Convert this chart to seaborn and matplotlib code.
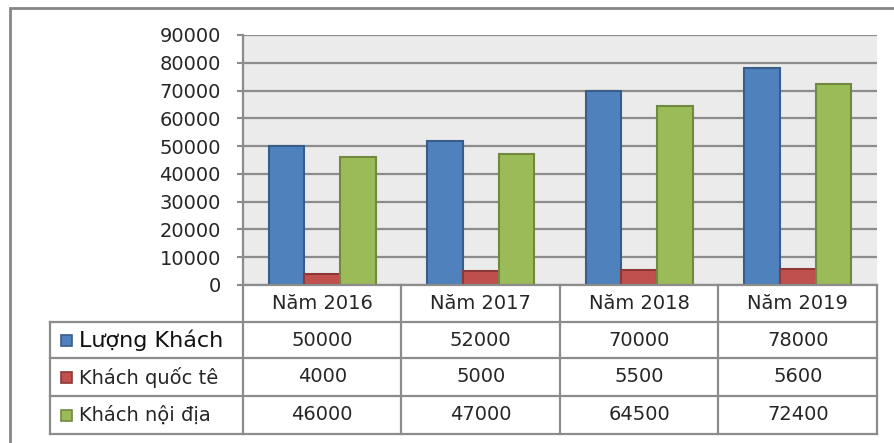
import matplotlib
matplotlib.use("Agg")
from matplotlib import pyplot as plt
from matplotlib.patches import Rectangle
from matplotlib.lines import Line2D
import matplotlib.transforms as mtransforms
import pandas as pd
import seaborn as sns

years = ["Năm 2016", "Năm 2017", "Năm 2018", "Năm 2019"]
series = ["Lượng Khách", "Khách quốc tê", "Khách nội địa"]
luong_khach = [50000, 52000, 70000, 78000]
khach_quoc_te = [4000, 5000, 5500, 5600]
khach_noi_dia = [46000, 47000, 64500, 72400]
yticks = list(range(0, 90001, 10000))

fills = ["#4f81bd", "#c0504d", "#9bbb59"]
edges = ["#385d8a", "#8c3836", "#71893f"]
line_c = "#8c8c8c"
W, H = 895, 443

plt.rcParams["font.family"] = ["DejaVu Sans"]

df = pd.DataFrame({"year": years * 3,
                   "series": [s for s in series for _ in years],
                   "value": luong_khach + khach_quoc_te + khach_noi_dia})

fig = plt.figure(figsize=(W / 100, H / 100), dpi=100)
ax = fig.add_axes([243 / W, 1 - 285 / H, 634 / W, 250 / H])
ax.set_facecolor("#ebebeb")

sns.barplot(data=df, x="year", y="value", hue="series", palette=fills,
            saturation=1, width=0.675, ax=ax, legend=False, zorder=3)
for cont, ec in zip(ax.containers, edges):
    for p in cont:
        p.set_edgecolor(ec)
        p.set_linewidth(1.5)

ax.set_xlim(-0.5, 3.5)
ax.set_ylim(0, 90000)
ax.set_yticks(yticks)
ax.set_yticklabels([str(v) for v in yticks])
ax.yaxis.grid(True, color=line_c, lw=1.6, zorder=1)
ax.set_axisbelow(True)
ax.tick_params(axis="y", length=4, width=1.5, color=line_c, pad=12, labelsize=14, labelcolor="#262626")
ax.tick_params(axis="x", bottom=False, labelbottom=False)
ax.set_xlabel("")
ax.set_ylabel("")
for s in ["top", "right", "bottom"]:
    ax.spines[s].set_visible(False)
ax.spines["left"].set_color(line_c)
ax.spines["left"].set_linewidth(1.6)


def fy(py):
    return 1 - py / H


def fx(px):
    return px / W


# data table below the plot
tr = mtransforms.blended_transform_factory(ax.transData, fig.transFigure)
rows_y = [285, 322, 358, 396, 434]
lk = dict(color=line_c, lw=1.6)
fig.add_artist(Line2D([fx(243), fx(877)], [fy(285), fy(285)], **lk))
for py in rows_y[1:]:
    fig.add_artist(Line2D([fx(50), fx(877)], [fy(py), fy(py)], **lk))
fig.add_artist(Line2D([fx(50), fx(50)], [fy(322), fy(434)], **lk))
fig.add_artist(Line2D([fx(243), fx(243)], [fy(285), fy(434)], **lk))
for i in range(len(years)):
    fig.add_artist(Line2D([i + 0.5, i + 0.5], [fy(285), fy(434)], transform=tr, **lk))

for i, y in enumerate(years):
    ax.text(i, fy((285 + 322) / 2), y, transform=tr, ha="center", va="center",
            fontsize=14, color="#262626", clip_on=False)
for r, vals in enumerate([luong_khach, khach_quoc_te, khach_noi_dia]):
    cy = fy((rows_y[r + 1] + rows_y[r + 2]) / 2)
    for i, v in enumerate(vals):
        ax.text(i, cy, str(v), transform=tr, ha="center", va="center",
                fontsize=14, color="#262626", clip_on=False)
    fig.add_artist(Rectangle((fx(61), cy - 5.5 / H), 11 / W, 11 / H,
                             facecolor=fills[r], edgecolor=edges[r], lw=1.2))
    fig.text(fx(79), cy, series[r], ha="left", va="center",
             fontsize=16 if r == 0 else 14, color="#111111" if r == 0 else "#262626")

# outer chart border
fig.add_artist(Rectangle((fx(10), fy(460)), fx(900) - fx(10), fy(8) - fy(460),
                         fill=False, edgecolor="#868686", lw=2))

fig.savefig("out.png", dpi=100)
